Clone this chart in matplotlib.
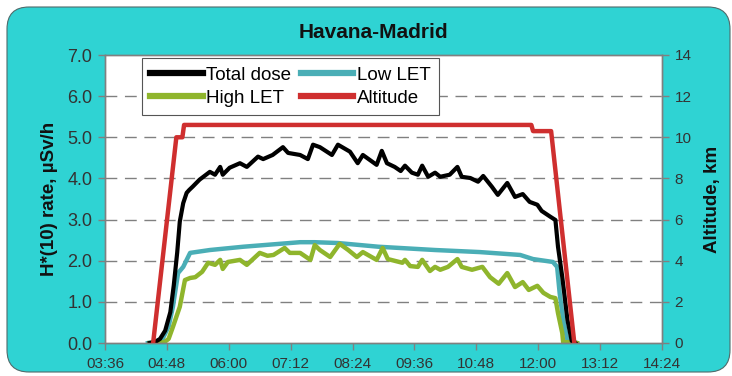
import matplotlib
matplotlib.use("Agg")
import matplotlib.pyplot as plt
from matplotlib.patches import FancyBboxPatch
from matplotlib.ticker import FuncFormatter, MultipleLocator

plt.rcParams['font.family'] = ['Liberation Sans', 'DejaVu Sans']

# Flight Havana-Madrid: time in minutes after midnight (UTC)
total_t = [268, 274, 280, 286, 292, 296, 300, 303, 307, 311, 314, 318, 326, 338,
           344, 350, 353, 361, 373, 381, 394, 400, 411, 423, 429, 443, 452, 458,
           466, 480, 487, 501, 510, 516, 532, 538, 544, 553, 560, 565, 573, 580,
           585, 592, 600, 606, 617, 626, 631, 641, 650, 656, 666, 673, 684, 693,
           702, 710, 719, 724, 734, 740, 743, 748, 754, 759, 763]
total_dose = [0.0, 0.02, 0.1, 0.3, 0.75, 1.4, 2.2, 2.95, 3.4, 3.65, 3.72, 3.8, 3.97, 4.16,
              4.09, 4.28, 4.09, 4.26, 4.37, 4.28, 4.53, 4.47, 4.57, 4.76, 4.62, 4.57, 4.47, 4.82,
              4.76, 4.57, 4.82, 4.65, 4.37, 4.57, 4.33, 4.67, 4.37, 4.28, 4.18, 4.31, 4.14, 4.09,
              4.31, 4.04, 4.14, 4.04, 4.09, 4.28, 4.04, 4.01, 3.92, 4.06, 3.80, 3.60, 3.89, 3.55,
              3.62, 3.43, 3.36, 3.21, 3.07, 2.99, 2.34, 1.60, 0.56, 0.05, 0.0]

low_t = [266, 274, 283, 290, 295, 301, 307, 315, 338, 377, 443, 460, 487, 534,
         600, 652, 699, 714, 737, 742, 745, 749, 754, 760, 765]
low_let = [0.0, 0.03, 0.1, 0.4, 0.88, 1.7, 1.85, 2.19, 2.26, 2.34, 2.45, 2.45, 2.43, 2.34,
           2.26, 2.21, 2.14, 2.04, 1.97, 1.85, 1.2, 0.56, 0.07, 0.05, 0.0]

high_t = [268, 285, 290, 295, 303, 309, 315, 321, 329, 336, 344, 350, 353, 359,
          373, 381, 396, 405, 412, 425, 431, 443, 455, 460, 466, 478, 489, 499,
          509, 516, 532, 539, 545, 562, 565, 571, 580, 585, 594, 600, 606, 615,
          626, 631, 643, 655, 664, 674, 684, 693, 702, 709, 719, 726, 734, 740,
          743, 748, 749, 758, 765]
high_let = [0.0, 0.02, 0.1, 0.39, 0.88, 1.53, 1.58, 1.6, 1.73, 1.95, 1.9, 2.02, 1.8, 1.97,
            2.02, 1.9, 2.19, 2.12, 2.14, 2.31, 2.19, 2.19, 2.02, 2.38, 2.26, 2.09, 2.41, 2.26,
            2.09, 2.21, 2.02, 2.31, 2.04, 1.95, 2.02, 1.87, 1.85, 2.02, 1.75, 1.85, 1.78, 1.85,
            2.04, 1.85, 1.78, 1.85, 1.6, 1.44, 1.7, 1.36, 1.48, 1.29, 1.39, 1.22, 1.12, 1.09,
            0.73, 0.24, 0.02, 0.02, 0.0]

alt_t = [272, 299, 306, 308, 712, 714, 735, 762]
altitude_km = [0.0, 10.0, 10.0, 10.6, 10.6, 10.3, 10.3, 0.0]

x_ticks = list(range(216, 865, 72))

C_BG = '#2fd3d3'
C_TEXT = '#333333'
C_TOTAL = '#000000'
C_LOW = '#4aaeb6'
C_HIGH = '#8fb52c'
C_ALT = '#cf2f2f'
C_FRAME = '#808080'

W, H = 7.32, 3.76
fig = plt.figure(figsize=(W, H), dpi=100, facecolor='white')

# rounded cyan panel behind everything
panel = FancyBboxPatch((0.07, 0.04), 7.23, 3.65,
                       boxstyle="round,pad=0,rounding_size=0.22",
                       transform=fig.dpi_scale_trans,
                       facecolor=C_BG, edgecolor='#4f6b6b', linewidth=0.8, zorder=-10)
fig.patches.append(panel)

ax = fig.add_axes([105 / 732, 1 - 343 / 376, 557 / 732, 288 / 376])
ax.set_facecolor('white')
ax2 = ax.twinx()

for y in range(1, 7):
    ax.axhline(y, color=C_FRAME, lw=1.0, linestyle=(0, (8.5, 5.5)), zorder=1)

l_total, = ax.plot(total_t, total_dose, color=C_TOTAL, lw=3.0, label='Total dose', zorder=3,
                   solid_joinstyle='round')
l_low, = ax.plot(low_t, low_let, color=C_LOW, lw=3.2, label='Low LET', zorder=2,
                 solid_joinstyle='round')
l_high, = ax.plot(high_t, high_let, color=C_HIGH, lw=3.2, label='High LET', zorder=2.5,
                  solid_joinstyle='round')
l_alt, = ax2.plot(alt_t, altitude_km, color=C_ALT, lw=3.2, label='Altitude', zorder=3)

ax.set_xlim(216, 864)
ax.set_ylim(0, 7)
ax2.set_ylim(0, 14)
ax.set_xticks(x_ticks)
ax.xaxis.set_major_formatter(FuncFormatter(lambda m, _: f"{int(m) // 60:02d}:{int(m) % 60:02d}"))
ax.yaxis.set_major_locator(MultipleLocator(1))
ax.yaxis.set_major_formatter(FuncFormatter(lambda v, _: f"{v:.1f}"))
ax2.yaxis.set_major_locator(MultipleLocator(2))

for a in (ax, ax2):
    for s in a.spines.values():
        s.set_color(C_FRAME)
        s.set_linewidth(1.0)

ax.tick_params(axis='x', direction='out', length=5, width=1, color=C_FRAME,
               labelsize=11, labelcolor=C_TEXT, pad=5)
ax.tick_params(axis='y', direction='out', length=5, width=1, color=C_FRAME,
               labelsize=13, labelcolor=C_TEXT, pad=4)
ax2.tick_params(axis='y', direction='out', length=5, width=1, color=C_FRAME,
                labelsize=11, labelcolor=C_TEXT, pad=4)

ax.set_ylabel('H*(10) rate, µSv/h', fontsize=13.5, fontweight='bold', color='#111111', labelpad=7)
ax2.set_ylabel('Altitude, km', fontsize=13.5, fontweight='bold', color='#111111', labelpad=9)

fig.text(373 / 732, 1 - 32 / 376, 'Havana-Madrid', ha='center', va='center',
         fontsize=15, fontweight='bold', color='#111111')

leg = ax2.legend([l_total, l_high, l_low, l_alt],
                 ['Total dose', 'High LET', 'Low LET', 'Altitude'],
                 ncol=2, loc='upper left', bbox_to_anchor=(0.066, 0.988),
                 borderaxespad=0.0,
                 fontsize=13.5, handlelength=2.8, handletextpad=0.2,
                 columnspacing=0.5, labelspacing=0.3, borderpad=0.45,
                 frameon=True, fancybox=False, framealpha=1, edgecolor='#555555')
leg.get_frame().set_linewidth(0.8)
for h in leg.legend_handles:
    h.set_linewidth(4.5)
leg.set_zorder(10)

fig.savefig('out.png', dpi=100, facecolor='white')
